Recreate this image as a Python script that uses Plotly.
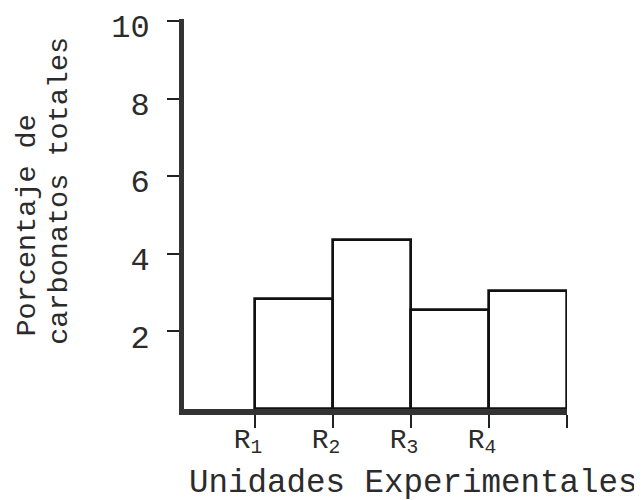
import plotly.graph_objects as go

categories = ["R<sub>1</sub>", "R<sub>2</sub>", "R<sub>3</sub>", "R<sub>4</sub>"]
values = [2.83, 4.36, 2.56, 3.03]
y_ticks = [2, 4, 6, 8, 10]
y_title_lines = ["Porcentaje de", "carbonatos totales"]
x_title = "Unidades Experimentales"

positions = list(range(len(categories)))
FONT = "Liberation Mono, Courier New, monospace"
INK = "#2b2b2b"

fig = go.Figure()
fig.add_trace(go.Bar(
    x=positions, y=values, width=1, offset=0,
    marker=dict(color="white", line=dict(color="#111111", width=2.7)),
    showlegend=False, hoverinfo="skip",
))

fig.update_layout(
    width=642, height=500,
    margin=dict(l=176, r=83, t=11, b=99, autoexpand=False),
    paper_bgcolor="white", plot_bgcolor="white",
    font=dict(family=FONT, color=INK),
    bargap=0,
    xaxis=dict(
        range=[-0.91, len(categories)],
        tickmode="array",
        tickvals=positions + [len(categories)],
        ticktext=categories + [""],
        ticks="outside", ticklen=13, tickwidth=2, tickcolor="#222222",
        showline=True, linewidth=6, linecolor="#333333",
        showgrid=False, zeroline=False, automargin=False,
        tickfont=dict(size=28, family=FONT, color=INK),
        ticklabelshift=-7, ticklabelstandoff=-14,
        ticklabeloverflow="allow",
    ),
    yaxis=dict(
        range=[0, 10.05],
        tickmode="array", tickvals=y_ticks,
        ticktext=[str(v) for v in y_ticks],
        ticks="outside", ticklen=12, tickwidth=2, tickcolor="#222222",
        showline=True, linewidth=5, linecolor="#333333",
        showgrid=False, zeroline=False, automargin=False,
        tickfont=dict(size=32, family=FONT, color=INK),
        ticklabelstandoff=11, ticklabelshift=5,
        ticklabeloverflow="allow",
    ),
    annotations=[
        dict(text=y_title_lines[0], xref="paper", yref="paper",
             x=-0.408, y=0.18, xanchor="center", yanchor="bottom",
             textangle=-90, showarrow=False,
             font=dict(size=28.5, family=FONT, color=INK)),
        dict(text=y_title_lines[1], xref="paper", yref="paper",
             x=-0.326, y=0.16, xanchor="center", yanchor="bottom",
             textangle=-90, showarrow=False,
             font=dict(size=28.5, family=FONT, color=INK)),
        dict(text=x_title, xref="paper", yref="paper",
             x=0.6, y=-0.19, yanchor="middle", xanchor="center", showarrow=False,
             font=dict(size=32.5, family=FONT, color=INK)),
    ],
)

fig.write_html("out.html")
